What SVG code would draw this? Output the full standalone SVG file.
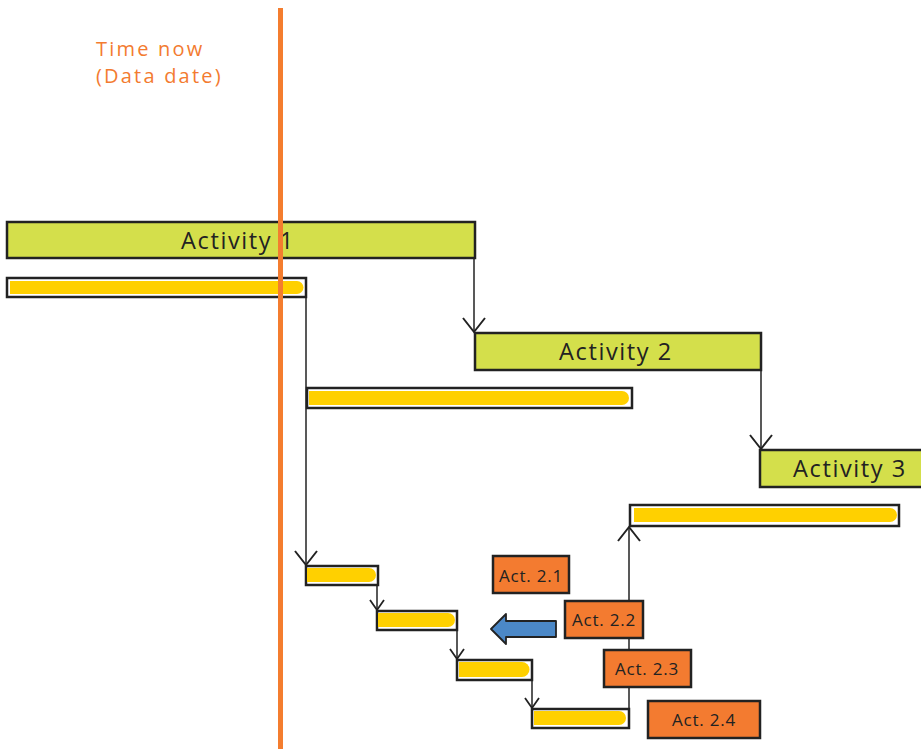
<svg xmlns="http://www.w3.org/2000/svg" width="921" height="749" viewBox="0 0 921 749">
<style>
.box{stroke:#222;stroke-width:2.5}
.act{fill:#d4df4b}
.sub{fill:#f37b30}
.bar{fill:#fff}
.ystrip{fill:#ffd000}
.conn{fill:none;stroke:#222;stroke-width:1.5}
.lbl{font-family:"Open Sans","Liberation Sans",sans-serif;fill:#222;text-anchor:middle;dominant-baseline:central}
.big{font-size:23.5px;letter-spacing:1.6px}
.small{font-size:17px;letter-spacing:0.8px}
.note{font-family:"Open Sans","Liberation Sans",sans-serif;fill:#f37b30;font-size:20px;letter-spacing:2.2px}
</style>
<defs>
<marker id="vbig" markerUnits="userSpaceOnUse" markerWidth="30" markerHeight="30" refX="15" refY="15" orient="auto" viewBox="0 0 30 30">
<path d="M1 4 L15 15 L1 26" fill="none" stroke="#222" stroke-width="2"/>
</marker>
<marker id="vsmall" markerUnits="userSpaceOnUse" markerWidth="24" markerHeight="24" refX="12" refY="12" orient="auto" viewBox="0 0 24 24">
<path d="M2 5 L12 12 L2 19" fill="none" stroke="#222" stroke-width="1.8"/>
</marker>
</defs>
<rect width="921" height="749" fill="#fff"/>

<g id="connectors">
<path class="conn" d="M474 259 V332" marker-end="url(#vbig)"/>
<path class="conn" d="M761 370 V449" marker-end="url(#vbig)"/>
<path class="conn" d="M306 297 V565" marker-end="url(#vbig)"/>
<path class="conn" d="M377 585 V610" marker-end="url(#vsmall)"/>
<path class="conn" d="M457 630 V659" marker-end="url(#vsmall)"/>
<path class="conn" d="M532 680 V708" marker-end="url(#vsmall)"/>
<path class="conn" d="M629 709 V527" stroke-width="2" marker-end="url(#vbig)"/>
</g>

<g id="activity1">
<rect class="box act" x="7" y="222" width="468" height="36"/>
<text class="lbl big" x="238" y="240">Activity 1</text>
</g>
<g id="bar1">
<rect class="box bar" x="7" y="278" width="299" height="19"/>
<path class="ystrip" d="M10 281 H297 A6.5 6.5 0 0 1 297 294 H10 Z"/>
</g>
<g id="activity2">
<rect class="box act" x="475" y="333" width="286" height="37"/>
<text class="lbl big" x="616" y="351">Activity 2</text>
</g>
<g id="bar2">
<rect class="box bar" x="307" y="388" width="325" height="20"/>
<path class="ystrip" d="M309 391 H622 A7 7 0 0 1 622 405 H309 Z"/>
</g>
<g id="activity3">
<rect class="box act" x="760" y="450" width="163" height="37"/>
<text class="lbl big" x="850" y="468">Activity 3</text>
</g>
<g id="bar3">
<rect class="box bar" x="630" y="505" width="269" height="21"/>
<path class="ystrip" d="M634 508 H890 A7 7 0 0 1 890 522 H634 Z"/>
</g>
<g id="step1">
<rect class="box bar" x="306" y="566" width="72" height="19"/>
<path class="ystrip" d="M307 568 H369 A7 7 0 0 1 369 582 H307 Z"/>
</g>
<g id="step2">
<rect class="box bar" x="377" y="611" width="80" height="19"/>
<path class="ystrip" d="M378 613 H448 A7 7 0 0 1 448 627 H378 Z"/>
</g>
<g id="step3">
<rect class="box bar" x="457" y="660" width="75" height="20"/>
<path class="ystrip" d="M459 662 H522 A7.5 7.5 0 0 1 522 677 H459 Z"/>
</g>
<g id="step4">
<rect class="box bar" x="532" y="709" width="97" height="19"/>
<path class="ystrip" d="M534 711 H619 A7 7 0 0 1 619 725 H534 Z"/>
</g>

<g id="act21">
<rect class="box sub" x="493" y="556" width="76" height="37"/>
<text class="lbl small" x="531" y="575">Act. 2.1</text>
</g>
<g id="act22">
<rect class="box sub" x="565" y="601" width="78" height="37"/>
<text class="lbl small" x="604" y="619">Act. 2.2</text>
</g>
<g id="act23">
<rect class="box sub" x="604" y="650" width="87" height="37"/>
<text class="lbl small" x="647" y="668">Act. 2.3</text>
</g>
<g id="act24">
<rect class="box sub" x="648" y="701" width="112" height="37"/>
<text class="lbl small" x="704" y="719">Act. 2.4</text>
</g>

<g id="blue-arrow">
<path d="M556 621 H506 V614 L491 629 L506 644 V637 H556 Z" fill="#4b88c7" stroke="#222" stroke-width="1.8" stroke-linejoin="round"/>
</g>

<g id="time-now">
<line x1="280.5" y1="8" x2="280.5" y2="749" stroke="#f47d2f" stroke-width="5"/>
<text class="note" x="96" y="56">Time now</text>
<text class="note" x="96" y="83">(Data date)</text>
</g>
</svg>
